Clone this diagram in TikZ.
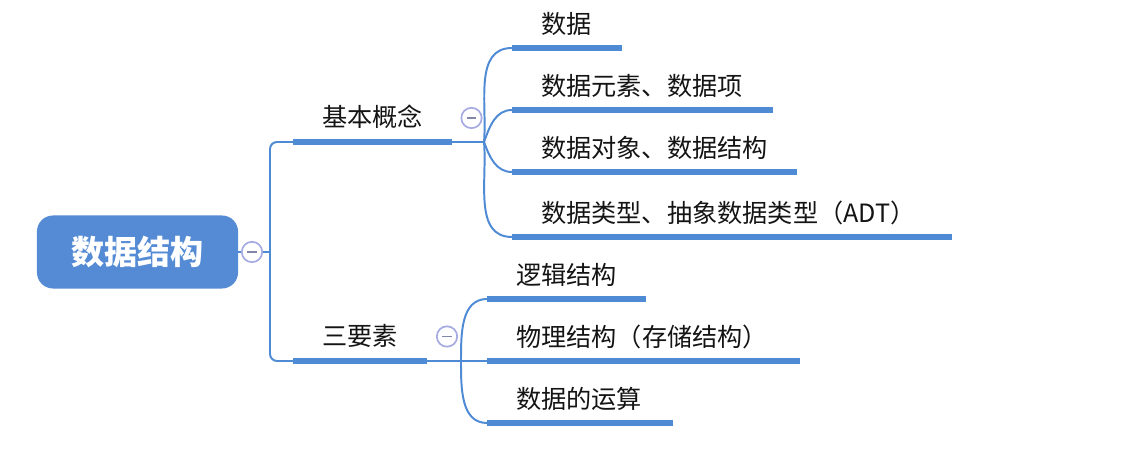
\documentclass[tikz,border=0pt]{standalone}
\usepackage{fontspec}
\newfontfamily\cjk{Noto Sans CJK SC}
\usepackage{xcolor}
\usepackage{tikz}
\usetikzlibrary{calc}

\definecolor{mmblue}{RGB}{79,138,213}
\definecolor{rootblue}{RGB}{84,139,212}
\definecolor{foldring}{RGB}{165,170,224}
\definecolor{foldbar}{RGB}{130,135,168}
\definecolor{ink}{RGB}{20,20,20}

\begin{document}
\begin{tikzpicture}[
  x=0.025cm, y=0.025cm,
  root/.style={rectangle, rounded corners=0.4cm, fill=rootblue, text=white,
               minimum width=5.025cm, minimum height=1.825cm,
               font=\cjk\bfseries\fontsize{23.5pt}{26pt}\selectfont},
  topic/.style={anchor=base west, inner sep=0pt, text=ink,
                font=\cjk\fontsize{17.9pt}{20pt}\selectfont},
  bar/.style={draw=mmblue, line width=3.9pt},
  link/.style={draw=mmblue, line width=1.4pt},
  fold/.style={circle, draw=foldring, line width=1.2pt, fill=white,
               minimum size=14.5pt, inner sep=0pt,
               path picture={\draw[foldbar, line width=1.2pt]
                 ([xshift=-3.5pt]path picture bounding box.center) --
                 ([xshift=3.5pt]path picture bounding box.center);}}
]
\useasboundingbox (0,0) rectangle (1128,464);

% --- Root ---
\node[root] (root) at (137.5,212) {数据结构};
\coordinate (hub) at (270,212);

% --- Level 1 ---
\coordinate (b1) at (293,322);
\coordinate (b2) at (293,103);
\coordinate (j1) at (484,322);
\coordinate (j2) at (461,103);

% --- Level 2 ---
\coordinate (d1) at (512,416);
\coordinate (d2) at (512,354);
\coordinate (d3) at (512,292);
\coordinate (d4) at (512,227);
\coordinate (m1) at (487,165);
\coordinate (m2) at (487,103);
\coordinate (m3) at (487,41);

% trunk
\draw[link] (root.east) -- (hub);
\draw[link, rounded corners=5pt] (b1) -| (hub) |- (b2);
\draw[link] (b1) -- (j1);
\draw[link] (b2) -- (j2) -- (m2);

% branches to leaves
\draw[link] (j1) to[out=85, in=180] (d1);
\draw[link] (j1) to[out=70, in=180] (d2);
\draw[link] (j1) to[out=-70, in=180] (d3);
\draw[link] (j1) to[out=-85, in=180] (d4);
\draw[link] (j2) to[out=90, in=180] (m1);
\draw[link] (j2) to[out=-90, in=180] (m3);

% underline bars
\draw[bar] (b1) -- +(159,0);
\draw[bar] (b2) -- +(134,0);
\draw[bar] (d1) -- +(110,0);
\draw[bar] (d2) -- +(261,0);
\draw[bar] (d3) -- +(285,0);
\draw[bar] (d4) -- +(440,0);
\draw[bar] (m1) -- +(159,0);
\draw[bar] (m2) -- +(313,0);
\draw[bar] (m3) -- +(186,0);

% texts
\node[topic] (k1) at ($(b1)+(29,15)$) {基本概念};
\node[topic] (k2) at ($(b2)+(29,15)$) {三要素};
\node[topic] (t1) at ($(d1)+(29,14)$) {数据};
\node[topic] (t2) at ($(d2)+(29,14)$) {数据元素、数据项};
\node[topic] (t3) at ($(d3)+(29,14)$) {数据对象、数据结构};
\node[topic] (t4) at ($(d4)+(29,14)$) {数据类型、抽象数据类型（ADT）};
\node[topic] (s1) at ($(m1)+(29,14)$) {逻辑结构};
\node[topic] (s2) at ($(m2)+(29,14)$) {物理结构（存储结构）};
\node[topic] (s3) at ($(m3)+(29,14)$) {数据的运算};

% collapse markers
\node[fold] (c0) at (252,212) {};
\node[fold] (c1) at (471.5,346) {};
\node[fold] (c2) at (447,127.5) {};

\end{tikzpicture}
\end{document}
